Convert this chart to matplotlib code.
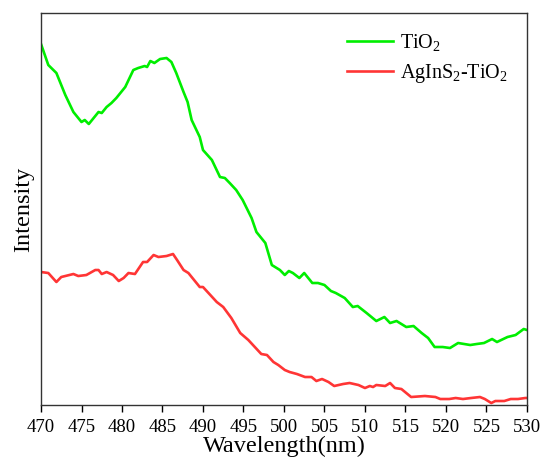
import numpy as np
import matplotlib
matplotlib.use('Agg')
import matplotlib.pyplot as plt

plt.rcParams['font.family'] = 'Liberation Serif'
plt.rcParams['mathtext.fontset'] = 'custom'
plt.rcParams['mathtext.rm'] = 'Liberation Serif'
plt.rcParams['mathtext.default'] = 'regular'

# wavelength (nm) and intensity (arb. units)
wl_tio2 = [470.0, 470.9, 471.9, 473.0, 474.0, 475.0, 475.4, 475.9, 477.1, 477.5,
           478.1, 478.7, 479.3, 480.4, 481.4, 482.0, 482.8, 483.1, 483.5, 484.0,
           484.7, 485.5, 486.1, 486.7, 487.6, 488.1, 488.6, 489.6, 490.0, 491.1,
           492.1, 492.7, 493.3, 494.1, 494.9, 496.0, 496.6, 497.7, 498.5, 499.5,
           500.1, 500.6, 501.1, 501.9, 502.5, 503.5, 504.2, 505.0, 505.8, 506.4,
           507.5, 508.5, 509.1, 510.2, 511.4, 512.4, 513.1, 513.9, 515.1, 516.0,
           517.0, 517.8, 518.6, 519.6, 520.5, 521.5, 523.0, 523.8, 524.7, 525.7,
           526.3, 527.6, 528.6, 529.6, 530.0]
i_tio2 = [361, 340, 332, 310, 293, 283, 285, 281, 293, 292,
          298, 302, 307, 318, 335, 337, 339, 338, 344, 342,
          346, 347, 343, 332, 313, 303, 285, 268, 255, 245,
          228, 227, 222, 215, 205, 187, 173, 162, 140, 135,
          130, 134, 132, 127, 132, 122, 122, 120, 114, 112,
          107, 98, 99, 92, 84, 88, 82, 84, 78, 79,
          72, 67, 58, 58, 57, 62, 60, 61, 62, 66,
          63, 68, 70, 76, 75]

wl_ags = [470.0, 470.9, 471.9, 472.5, 474.0, 474.6, 475.6, 476.7, 477.1, 477.5,
          478.1, 478.9, 479.6, 480.2, 480.8, 481.6, 482.6, 483.1, 483.9, 484.5,
          485.5, 486.3, 486.8, 487.6, 488.2, 489.6, 490.0, 491.7, 492.5, 493.5,
          494.6, 495.6, 496.4, 497.2, 497.9, 498.7, 499.3, 500.1, 500.7, 501.6,
          502.6, 503.4, 504.0, 504.7, 505.5, 506.2, 507.3, 508.1, 509.2, 510.0,
          510.6, 511.0, 511.4, 512.5, 513.1, 513.7, 514.5, 515.1, 515.7, 517.4,
          518.7, 519.3, 520.4, 521.2, 522.1, 523.1, 524.2, 524.8, 525.6, 526.1,
          527.2, 528.0, 528.9, 529.8, 530.0]
i_ags = [133, 132, 123, 128, 131, 129, 130, 135, 135, 131,
         133, 130, 124, 127, 132, 131, 143, 143, 150, 148,
         149, 151, 145, 135, 132, 118, 118, 103, 98, 87,
         72, 65, 58, 51, 50, 43, 40, 35, 33, 31,
         28, 28, 24, 26, 23, 19, 21, 22, 20, 17,
         19, 18, 20, 19, 22, 17, 16, 12, 8, 9,
         8, 6, 6, 7, 6, 7, 8, 6, 2, 4,
         4, 6, 6, 7, 7]

fig = plt.figure(figsize=(5.41, 4.58), dpi=100)
ax = fig.add_axes([0.0758, 0.1157, 0.8982, 0.8559])
ax.plot(wl_tio2, i_tio2, color='#00ee00', lw=1.9, label='TiO$_2$')
ax.plot(wl_ags, i_ags, color='#ff3535', lw=1.9, label='AgInS$_2$-TiO$_2$')

ax.set_xlim(470, 530)
ax.set_ylim(0, 392)
ax.set_xticks(np.arange(470, 531, 5))
ax.set_yticks([])
ax.tick_params(axis='x', direction='out', length=5, width=1, labelsize=13.5, pad=5)
for s in ax.spines.values():
    s.set_linewidth(1.0)
    s.set_color('#333333')

ax.set_xlabel('Wavelength(nm)', fontsize=17.5, labelpad=0)
ax.set_ylabel('Intensity', fontsize=17.5, labelpad=5)

ax.legend(loc='upper right', bbox_to_anchor=(1.0, 1.0), frameon=False, fontsize=14.5,
          handlelength=2.3, handletextpad=0.35, labelspacing=0.45, borderaxespad=0.55)

fig.savefig('out.png', dpi=100)
